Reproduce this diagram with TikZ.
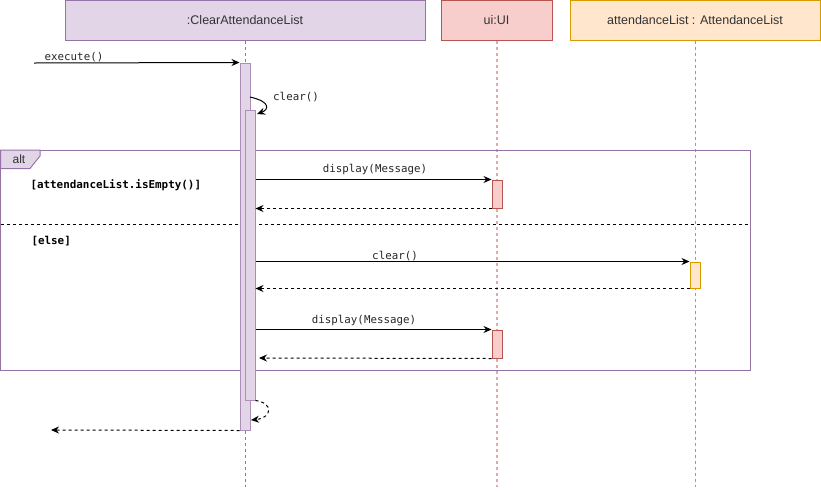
\documentclass[tikz,border=0pt]{standalone}
\usepackage{fontspec}
\setmainfont{Liberation Sans}
\newfontfamily\monof{DejaVu Sans Mono}
\usetikzlibrary{arrows.meta}
\definecolor{purpf}{HTML}{E1D5E7}
\definecolor{purpd}{HTML}{9673A6}
\definecolor{redf}{HTML}{F8CECC}
\definecolor{redd}{HTML}{B85450}
\definecolor{redl}{HTML}{E3A9A6}
\definecolor{orf}{HTML}{FFE6CC}
\definecolor{ord}{HTML}{D79B00}
\begin{document}
\begin{tikzpicture}[x=1pt,y=-1pt,line width=1pt,
  hdr/.style={draw, rectangle, minimum height=39.5pt, inner sep=0pt, font=\fontsize{12.5}{14}\selectfont, text=black!80},
  actbox/.style={draw, rectangle, minimum width=10pt, inner sep=0pt},
  msg/.style={-{Stealth[length=8pt,width=7pt]}, line width=1pt},
  ret/.style={msg, dash pattern=on 3pt off 3pt},
  lbl/.style={font=\monof\fontsize{10.8}{12}\selectfont, inner sep=1pt, text=black!85},
  guard/.style={font=\monof\bfseries\fontsize{10.9}{12}\selectfont, inner sep=0pt, anchor=west},
  life/.style={dash pattern=on 3pt off 3pt},
]
\useasboundingbox (0,0) rectangle (821,491);

% header boxes
\node[hdr, fill=purpf, draw=purpd, minimum width=360pt] (CAL) at (245,20.25) {:ClearAttendanceList};
\node[hdr, fill=redf, draw=redd, minimum width=111pt] (UI) at (496.5,20.25) {ui:UI};
\node[hdr, fill=orf, draw=ord, minimum width=250pt] (ALh) at (695,20.25) {attendanceList : AttendanceList};

% lifeline ends
\coordinate (CALend) at (245,487);
\coordinate (UIend) at (497,487);
\coordinate (ALend) at (695,487);
\draw[life, purpd] (CAL.south) -- (CALend);
\draw[life, redl, line width=1.8pt] (UI.south -| UIend) -- (UIend);
\draw[life, ord] (ALh.south) -- (ALend);

% alt frame
\draw[purpd] (0.5,150) rectangle (750,370);
\draw[purpd, fill=purpf] (0.5,150) -- (40,150) -- (40,156) -- (30,168.5) -- (0.5,168.5) -- cycle;
\node[font=\fontsize{12}{14}\selectfont, text=black!80, inner sep=0pt] (alt) at (19,159) {alt};
\draw[dash pattern=on 3pt off 3pt] (0.5,224) -- (750,224);
\node[guard] (g1) at (30,185) {[attendanceList.isEmpty()]};
\node[guard] (g2) at (31,241) {[else]};

% activations
\node[actbox, fill=purpf, draw=purpd!80, minimum height=367pt] (A1) at (245,246.5) {};
\node[actbox, fill=purpf, draw=purpd!80, minimum height=290pt] (A2) at (250,255) {};
\node[actbox, fill=redf, draw=redd, minimum height=28pt] (U1) at (497,194) {};
\node[actbox, fill=orf, draw=ord, minimum height=26pt] (AL) at (695,275) {};
\node[actbox, fill=redf, draw=redd, minimum height=28pt] (U2) at (497,344) {};

% messages
\coordinate (ex) at (34,63);
\draw[msg] (ex) -- (A1.north west);
\node[lbl] (lex) at (74,57) {execute()};

\coordinate (sc1) at (250,97);
\coordinate (sc2) at (257,114);
\draw[msg] (sc1) .. controls (272,102) and (268,110) .. (sc2);
\node[lbl] (lsc) at (296,97) {clear()};

\draw[msg] (A2.east |- U1.north west) -- (U1.north west);
\node[lbl] (ld1) at (375,170) {display(Message)};
\draw[ret] (U1.south west) -- (A2.east |- U1.south west);

\draw[msg] (A2.east |- AL.north west) -- (AL.north west);
\node[lbl] (lc2) at (395,256) {clear()};
\draw[ret] (AL.south west) -- (A2.east |- AL.south west);

\draw[msg] (A2.east |- U2.north west) -- (U2.north west);
\node[lbl] (ld2) at (364,321) {display(Message)};
\coordinate (r3) at (259,358);
\draw[ret] (U2.south west) -- (r3);

\coordinate (sr) at (251,420);
\draw[ret] (A2.south east) .. controls (274,403) and (272,418) .. (sr);

\coordinate (fin) at (51,430);
\draw[ret] (A1.south west) -- (fin);
\end{tikzpicture}
\end{document}
